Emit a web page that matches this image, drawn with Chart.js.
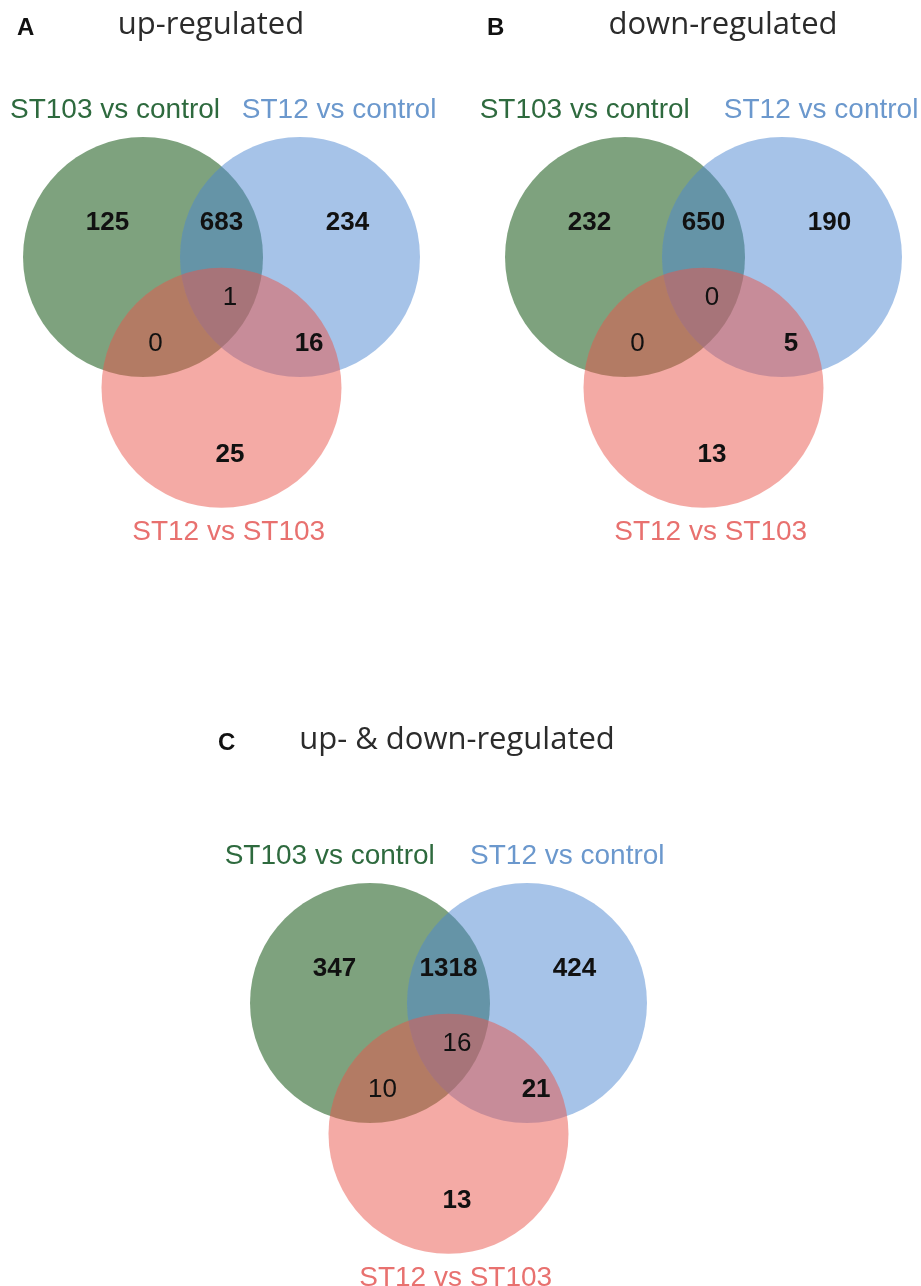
<!DOCTYPE html>
<html>
<head>
<meta charset="utf-8">
<script src="https://cdn.jsdelivr.net/npm/chart.js@4.4.1/dist/chart.umd.min.js"></script>
<style>
  html, body { margin: 0; padding: 0; background: #fff; }
  #page { position: relative; width: 921px; height: 1286px; overflow: hidden; }
  #page canvas { position: absolute; }
</style>
</head>
<body>
<div id="page">
  <canvas id="vennA" width="460" height="560" style="left:0;top:0"></canvas>
  <canvas id="vennB" width="460" height="560" style="left:461px;top:0"></canvas>
  <canvas id="vennC" width="921" height="686" style="left:0;top:600px"></canvas>
</div>
<script>
// comparisons, one circle each
var setNames = ['ST103 vs control', 'ST12 vs control', 'ST12 vs ST103'];
var panelLetters = ['A', 'B', 'C'];
var panelTitles = ['up-regulated', 'down-regulated', 'up- & down-regulated'];

// region order: ST103 only, ST103+ST12, ST12 only, all three,
// ST103+ST12vsST103, ST12+ST12vsST103, ST12vsST103 only
var upRegulated = [125, 683, 234, 1, 0, 16, 25];
var downRegulated = [232, 650, 190, 0, 0, 5, 13];
var upAndDown = [347, 1318, 424, 16, 10, 21, 13];

// geometry in circle radii (1 unit = UNIT px on both axes)
var UNIT = 120;
var circleCenters = [[-0.654, 0], [0.654, 0], [0, -1.09]];
var regionSpots = [[-0.95, 0.225], [0, 0.225], [1.05, 0.225], [0.07, -0.40],
                   [-0.55, -0.783], [0.73, -0.783], [0.07, -1.71]];
var regionBold = [true, true, true, false, false, true, true];
var labelY = [1.158, 1.158, -2.36];

var fills = ['rgba(20,85,20,0.55)', 'rgba(77,135,209,0.5)', 'rgba(233,85,75,0.5)'];
var labelColors = ['#2e6a3e', '#6b98cd', '#e8716f'];

var panels = [
  { id: 'vennA', counts: upRegulated, w: 460, h: 560, origin: [221.5, 257],
    letterAt: [17, 35], titleAt: [211, 34], labelX: [-0.8875, 0.98, 0.06] },
  { id: 'vennB', counts: downRegulated, w: 460, h: 560, origin: [242.5, 257],
    letterAt: [26, 35], titleAt: [262, 34], labelX: [-0.99, 0.98, 0.06] },
  { id: 'vennC', counts: upAndDown, w: 921, h: 686, origin: [448.5, 403],
    letterAt: [218, 150], titleAt: [457, 149], labelX: [-0.99, 0.99, 0.06] }
];

var SANS = '"Liberation Sans", Arial, sans-serif';

function vennText(panel, idx) {
  return {
    id: 'vennText',
    afterDatasetsDraw: function(chart) {
      var ctx = chart.ctx;
      var sx = chart.scales.x, sy = chart.scales.y;
      ctx.save();
      ctx.textBaseline = 'alphabetic';
      ctx.textAlign = 'center';

      panel.counts.forEach(function(n, i) {
        ctx.font = (regionBold[i] ? 'bold ' : '') + '26px ' + SANS;
        ctx.fillStyle = '#111';
        ctx.fillText(String(n), sx.getPixelForValue(regionSpots[i][0]), sy.getPixelForValue(regionSpots[i][1]));
      });

      ctx.font = '28px ' + SANS;
      setNames.forEach(function(name, i) {
        ctx.fillStyle = labelColors[i];
        ctx.fillText(name, sx.getPixelForValue(panel.labelX[i]), sy.getPixelForValue(labelY[i]));
      });

      ctx.fillStyle = '#2b2b2b';
      ctx.font = '31px "Open Sans", sans-serif';
      ctx.fillText(panelTitles[idx], panel.titleAt[0], panel.titleAt[1]);

      ctx.textAlign = 'left';
      ctx.fillStyle = '#111';
      ctx.font = 'bold 24px ' + SANS;
      ctx.fillText(panelLetters[idx], panel.letterAt[0], panel.letterAt[1]);
      ctx.restore();
    }
  };
}

panels.forEach(function(panel, idx) {
  var ox = panel.origin[0], oy = panel.origin[1];
  new Chart(document.getElementById(panel.id), {
    type: 'bubble',
    data: {
      datasets: [{
        data: circleCenters.map(function(c) { return { x: c[0], y: c[1], r: UNIT }; }),
        backgroundColor: fills,
        borderWidth: 0,
        clip: false
      }]
    },
    options: {
      responsive: false,
      animation: false,
      events: [],
      layout: { padding: 0, autoPadding: false },
      plugins: { legend: { display: false }, tooltip: { enabled: false } },
      scales: {
        x: { type: 'linear', display: false, min: -ox / UNIT, max: (panel.w - ox) / UNIT },
        y: { type: 'linear', display: false, min: -(panel.h - oy) / UNIT, max: oy / UNIT }
      }
    },
    plugins: [vennText(panel, idx)]
  });
});
</script>
</body>
</html>
